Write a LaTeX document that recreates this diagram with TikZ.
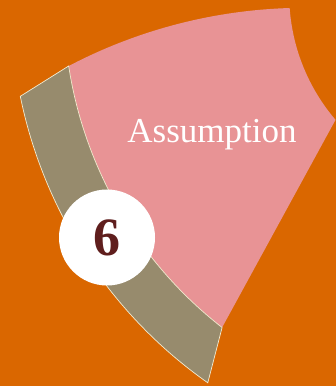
\documentclass[tikz,border=0pt]{standalone}
\usepackage{fontspec}
\setmainfont{Liberation Serif}
\definecolor{bgorange}{HTML}{DA6700}
\definecolor{wedgepink}{HTML}{E89395}
\definecolor{bandkhaki}{HTML}{978B6D}
\definecolor{bandline}{HTML}{F2EBD0}
\definecolor{numbrown}{HTML}{5F1E1D}
\tikzset{
  bandstyle/.style={fill=bandkhaki, draw=bandline, line width=0.7pt, line join=miter},
  wedgestyle/.style={fill=wedgepink, draw=none},
  numcircle/.style={circle, fill=white, draw=none, minimum size=96pt, inner sep=0pt,
    font=\fontsize{54}{54}\selectfont\bfseries, text=numbrown},
  labeltext/.style={text=white, font=\fontsize{35}{35}\selectfont, inner sep=0pt}
}
\begin{document}
\begin{tikzpicture}[x=1pt,y=1pt]
  \fill[bgorange] (0,0) rectangle (336,386);
  \useasboundingbox (0,0) rectangle (336,386);
  % pink wedge
  \path[wedgestyle] (68.7,320) arc[start angle=117.65, end angle=91.75, radius=509.7]
     arc[start angle=184.1, end angle=220.5, radius=193.5]
     -- (222.1,58.5) arc[start angle=232.1, end angle=188.7, radius=410] -- cycle;
  % khaki band
  \path[bandstyle] (20.3,289.7) arc[start angle=191.5, end angle=234.9, radius=463]
     -- (222.1,58.5) arc[start angle=232.1, end angle=188.7, radius=410] -- cycle;
  % text
  \node[labeltext, anchor=base] (lbl) at (212,243) {Assumption};
  % number circle
  \node[numcircle] (num) at (107,148.5) {6};
\end{tikzpicture}
\end{document}
